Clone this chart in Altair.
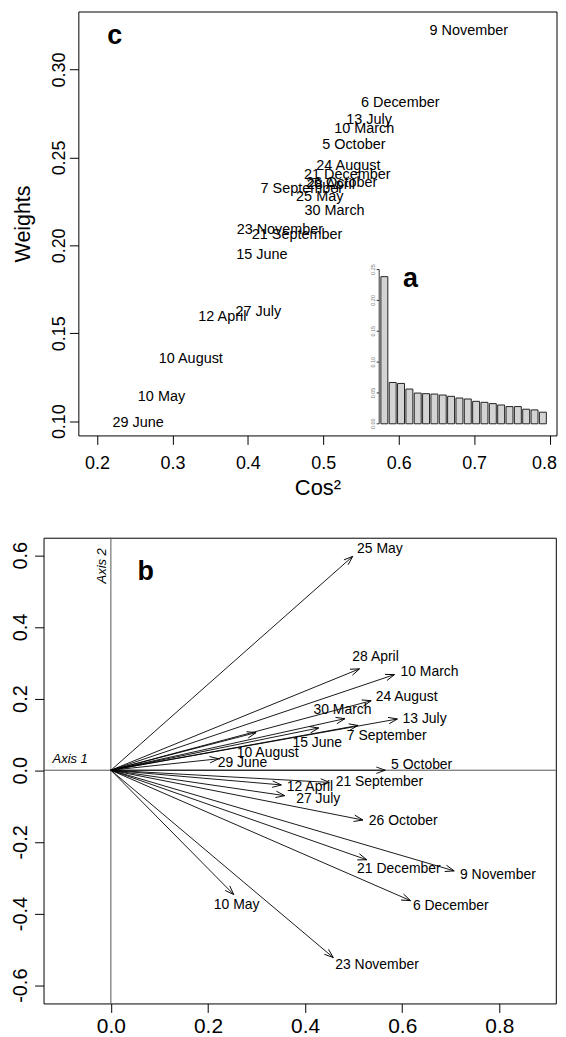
import math
import altair as alt
import pandas as pd

FONT = "Liberation Sans"

# ---------------- data ----------------
dates = ["29 June", "10 May", "10 August", "12 April", "27 July", "15 June",
         "21 September", "23 November", "30 March", "25 May", "7 September",
         "28 April", "26 October", "21 December", "24 August", "5 October",
         "10 March", "13 July", "6 December", "9 November"]
# panel c: squared cosine vs weight
cos2 = [0.2545, 0.2855, 0.3244, 0.3662, 0.4139, 0.4185, 0.4652, 0.4425, 0.5150, 0.4953,
        0.4715, 0.5100, 0.5243, 0.5318, 0.5333, 0.5405, 0.5542, 0.5608, 0.6020, 0.6929]
weights = [0.0991, 0.1138, 0.1355, 0.1594, 0.1623, 0.1943, 0.2061, 0.2089, 0.2194, 0.2273,
           0.2321, 0.2345, 0.2353, 0.2400, 0.2449, 0.2572, 0.2660, 0.2711, 0.2808, 0.3221]
# panel b: arrow ends on axes 1 and 2
axis1 = [0.222, 0.253, 0.299, 0.351, 0.358, 0.428, 0.450, 0.458, 0.482, 0.498,
         0.509, 0.512, 0.519, 0.527, 0.536, 0.565, 0.584, 0.590, 0.617, 0.707]
axis2 = [0.032, -0.347, 0.105, -0.041, -0.071, 0.118, -0.034, -0.523, 0.144, 0.597,
         0.125, 0.283, -0.139, -0.250, 0.194, 0.000, 0.267, 0.143, -0.364, -0.281]
# panel b: label anchor positions (data units)
label_axis1 = [0.271, 0.259, 0.323, 0.410, 0.427, 0.425, 0.553, 0.548, 0.477, 0.554,
               0.568, 0.545, 0.602, 0.593, 0.609, 0.640, 0.656, 0.646, 0.700, 0.797]
label_axis2 = [0.019, -0.376, 0.049, -0.048, -0.081, 0.077, -0.032, -0.5435, 0.167, 0.618,
               0.096, 0.315, -0.141, -0.276, 0.205, 0.015, 0.274, 0.144, -0.380, -0.292]
# panel a: eigenvalue proportions
bar_rank = list(range(1, 21))
eigen = [0.2385, 0.0670, 0.0654, 0.0563, 0.0498, 0.0488, 0.0482, 0.0466, 0.0445, 0.0418,
         0.0402, 0.0364, 0.0348, 0.0327, 0.0305, 0.0279, 0.0279, 0.0236, 0.0225, 0.0188]

x_top_ticks = [0.2, 0.3, 0.4, 0.5, 0.6, 0.7, 0.8]
y_top_ticks = [0.10, 0.15, 0.20, 0.25, 0.30]
inset_ticks = [0.0, 0.05, 0.10, 0.15, 0.20, 0.25]
inset_tick_labels = ["0.00", "0.05", "0.10", "0.15", "0.20", "0.25"]
x_bot_ticks = [0.0, 0.2, 0.4, 0.6, 0.8]
y_bot_ticks = [-0.6, -0.4, -0.2, 0.0, 0.2, 0.4, 0.6]

# ---------------- layout ----------------
TOP_W, TOP_H = 480.5, 426
X_TOP = [0.1753, 0.8092]
Y_TOP = [0.0919, 0.3330]
BOT_W, BOT_H = 514.8, 468
X_BOT = [-0.1387, 0.9162]
Y_BOT = [-0.651, 0.649]
SPACER_W = 34.3
INSET_X = [304, 470.3]
INSET_Y = [414.3, 259.3]
INSET_AXIS_X = 302.3

# ---------------- top panel (c + inset a) ----------------
top_df = pd.DataFrame({"date": dates, "cos2": cos2, "weight": weights})
letters_top = pd.DataFrame({"letter": ["c", "a"], "lx": [0.2136, 0.6058], "ly": [0.3145, 0.1764]})

xs_top = alt.Scale(domain=X_TOP, nice=False, zero=False)
ys_top = alt.Scale(domain=Y_TOP, nice=False, zero=False)
x_top_axis = alt.Axis(values=x_top_ticks, format=".1f", title="Cos²", tickSize=9,
                      labelPadding=10, labelFontSize=18, labelFlush=10, labelFlushOffset=7,
                      titleFontSize=22, titlePadding=5, titleFontWeight="normal")
y_top_axis = alt.Axis(values=y_top_ticks, format=".2f", title="Weights", labelAngle=270,
                      labelAlign="center", labelBaseline="bottom", tickSize=9,
                      labelPadding=1, labelFontSize=18, titleFontSize=21.5,
                      titlePadding=15.8, titleFontWeight="normal")

top_text = alt.Chart(top_df).mark_text(fontSize=14.5, font=FONT, color="black").encode(
    x=alt.X("cos2:Q", scale=xs_top, axis=x_top_axis),
    y=alt.Y("weight:Q", scale=ys_top, axis=y_top_axis),
    text="date:N",
)
top_letters = alt.Chart(letters_top).mark_text(
    fontSize=27, fontWeight="bold", font=FONT, align="left", baseline="alphabetic", color="black"
).encode(
    x=alt.X("lx:Q", scale=xs_top, axis=x_top_axis),
    y=alt.Y("ly:Q", scale=ys_top, axis=y_top_axis),
    text="letter:N",
)

inset_df = pd.DataFrame({"rank": bar_rank, "eig": eigen})
ys_inset = alt.Scale(domain=[0, 0.25], range=INSET_Y, nice=False, zero=True)
bars = alt.Chart(inset_df).mark_bar(fill="#d3d3d3", stroke="#222222", strokeWidth=1).encode(
    x=alt.X("rank:O", scale=alt.Scale(range=INSET_X, paddingInner=0.1667, paddingOuter=0), axis=None),
    y=alt.Y("eig:Q", scale=ys_inset, axis=None),
)
inset_axis_df = pd.DataFrame({"v": inset_ticks, "lab": inset_tick_labels})
inset_domain_df = pd.DataFrame({"lo": [inset_ticks[0]], "hi": [inset_ticks[-1]]})
inset_domain = alt.Chart(inset_domain_df).mark_rule(color="#333333", strokeWidth=1).encode(
    x=alt.value(INSET_AXIS_X), y=alt.Y("lo:Q", scale=ys_inset, axis=None), y2="hi:Q"
)
inset_tick_marks = alt.Chart(inset_axis_df).mark_rule(color="#333333", strokeWidth=1).encode(
    x=alt.value(INSET_AXIS_X - 2.5), x2=alt.value(INSET_AXIS_X),
    y=alt.Y("v:Q", scale=ys_inset, axis=None)
)
inset_tick_text = alt.Chart(inset_axis_df).mark_text(
    fontSize=5.5, font=FONT, color="#777777", angle=270, align="center", baseline="middle"
).encode(
    x=alt.value(INSET_AXIS_X - 6.5), y=alt.Y("v:Q", scale=ys_inset, axis=None), text="lab:N"
)
inset = alt.layer(bars, inset_domain, inset_tick_marks, inset_tick_text)

top = alt.layer(alt.layer(top_text, top_letters), inset).resolve_scale(
    x="independent", y="independent"
).properties(width=TOP_W, height=TOP_H)

spacer = alt.Chart(pd.DataFrame({"s": [0.0]})).mark_point(opacity=0).encode(
    x=alt.X("s:Q", axis=None), y=alt.Y("s:Q", axis=None)
).properties(width=SPACER_W, height=TOP_H, view=alt.ViewBackground(stroke="transparent"))

top_row = alt.hconcat(spacer, top, spacing=0, bounds="flush")

# ---------------- bottom panel (b) ----------------
kx = BOT_W / (X_BOT[1] - X_BOT[0])
ky = BOT_H / (Y_BOT[1] - Y_BOT[0])
bot_df = pd.DataFrame({"date": dates, "ax": axis1, "ay": axis2,
                       "lx": label_axis1, "ly": label_axis2})
bot_df["ang"] = [(math.degrees(math.atan2(-y * ky, x * kx)) + 360) % 360
                 for x, y in zip(axis1, axis2)]

xs_b = alt.Scale(domain=X_BOT, nice=False, zero=False)
ys_b = alt.Scale(domain=Y_BOT, nice=False, zero=False)
xb_axis = alt.Axis(values=x_bot_ticks, format=".1f", title=None, tickSize=9,
                   labelPadding=3, labelFontSize=21)
yb_axis = alt.Axis(values=y_bot_ticks, labelExpr="replace(format(datum.value, '.1f'), '\u2212', '-')",
                   title=None, labelAngle=270, labelAlign="center", labelBaseline="bottom",
                   tickSize=9, labelPadding=4, labelFontSize=20)

def X(f):
    return alt.X(f, scale=xs_b, axis=xb_axis)

def Y(f):
    return alt.Y(f, scale=ys_b, axis=yb_axis)

zero_df = pd.DataFrame({"zero": [0.0]})
h_line = alt.Chart(zero_df).mark_rule(color="#555555", strokeWidth=1).encode(y=Y("zero:Q"))
v_line = alt.Chart(zero_df).mark_rule(color="#555555", strokeWidth=1).encode(x=X("zero:Q"))

base = alt.Chart(bot_df)
arrows = base.transform_calculate(x0="0", y0="0").mark_rule(color="black", strokeWidth=0.9).encode(
    x=X("x0:Q"), y=Y("y0:Q"), x2="ax:Q", y2="ay:Q"
)
heads = base.mark_point(shape="M -1 -0.36 L 0 0 L -1 0.36", filled=False, size=324,
                        color="black", strokeWidth=0.9, opacity=1).encode(
    x=X("ax:Q"), y=Y("ay:Q"), angle=alt.Angle("ang:Q", scale=None)
)
labels = base.mark_text(fontSize=14, font=FONT, color="black").encode(
    x=X("lx:Q"), y=Y("ly:Q"), text="date:N"
)

axis1_lab = pd.DataFrame({"t": ["Axis 1"], "px": [-0.120], "py": [0.031]})
axis2_lab = pd.DataFrame({"t": ["Axis 2"], "px": [-0.011], "py": [0.5214]})
letter_b = pd.DataFrame({"t": ["b"], "px": [0.055], "py": [0.531]})

ax1_text = alt.Chart(axis1_lab).mark_text(fontSize=13, fontStyle="italic", font=FONT,
                                          align="left", baseline="middle", color="black").encode(
    x=X("px:Q"), y=Y("py:Q"), text="t:N")
ax2_text = alt.Chart(axis2_lab).mark_text(fontSize=13, fontStyle="italic", font=FONT, angle=270,
                                          align="left", baseline="alphabetic", color="black").encode(
    x=X("px:Q"), y=Y("py:Q"), text="t:N")
b_text = alt.Chart(letter_b).mark_text(fontSize=27, fontWeight="bold", font=FONT,
                                       align="left", baseline="alphabetic", color="black").encode(
    x=X("px:Q"), y=Y("py:Q"), text="t:N")

bottom = alt.layer(h_line, v_line, arrows, heads, labels, ax1_text, ax2_text, b_text).properties(
    width=BOT_W, height=BOT_H
)

chart = alt.vconcat(top_row, bottom, spacing=37.8).properties(
    padding={"left": 1.7, "top": 0, "right": 0, "bottom": 0}
).configure(font=FONT).configure_view(
    stroke="black", strokeWidth=1
).configure_axis(
    grid=False, domain=False, tickColor="black", labelColor="black", titleColor="black",
    labelFont=FONT, titleFont=FONT, tickWidth=1
)

chart.save("out.html", embed_options={"renderer": "svg", "actions": False})
